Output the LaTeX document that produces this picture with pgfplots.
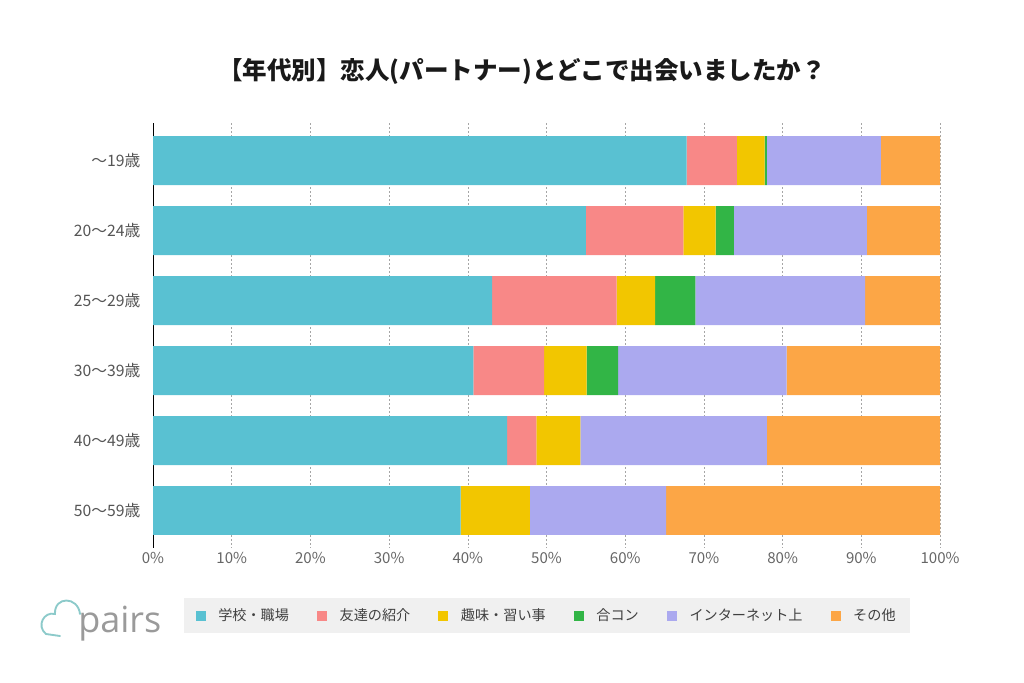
\documentclass[border=0pt]{standalone}
\usepackage{pgfplots}
\pgfplotsset{compat=1.18}
\usepackage{fontspec}
\setmainfont{Noto Sans CJK JP}
\newfontfamily\logofont{Open Sans}
\definecolor{cA}{HTML}{59C1D2}
\definecolor{cB}{HTML}{F88887}
\definecolor{cC}{HTML}{F2C600}
\definecolor{cD}{HTML}{32B546}
\definecolor{cE}{HTML}{ABA9EF}
\definecolor{cF}{HTML}{FCA646}
\definecolor{legbg}{HTML}{F0F0F0}
\definecolor{lbl}{HTML}{555555}
\definecolor{tck}{HTML}{666666}
\definecolor{logogray}{HTML}{9A9A9A}
\definecolor{logoteal}{HTML}{8CCACA}
\begin{document}
\begin{tikzpicture}
\path[use as bounding box] (0,0) rectangle (768pt,-511.5pt);
\node[font=\bfseries\fontsize{18.4}{22}\selectfont, text=black!90] at (391.5pt,-53.25pt) {【年代別】恋人(パートナー)とどこで出会いましたか？};
\begin{axis}[
  at={(114.75pt,-411pt)}, anchor=south west,
  scale only axis, width=590.25pt, height=318.75pt,
  xbar stacked, bar width=0.7,
  xmin=0, xmax=100, ymin=-0.536, ymax=5.536, y dir=reverse,
  ytick={0,1,2,3,4,5},
  yticklabels={〜19歳,20〜24歳,25〜29歳,30〜39歳,40〜49歳,50〜59歳},
  xtick={0,10,20,30,40,50,60,70,80,90,100},
  xticklabels={0\%,10\%,20\%,30\%,40\%,50\%,60\%,70\%,80\%,90\%,100\%},
  axis y line*=left, axis x line*=bottom,
  x axis line style={draw=none}, y axis line style={draw=none},
  major tick length=0pt,
  xmajorgrids, grid style={black!35, dash pattern=on 1.5pt off 1.5pt},
  xticklabel style={font=\fontsize{11.3}{13}\selectfont, text=tck},
  yticklabel style={font=\fontsize{11.8}{13}\selectfont, text=lbl, xshift=-6pt},
  legend columns=6,
  legend image code/.code={\fill[#1] (0pt,-3.75pt) rectangle (7.5pt,3.75pt);},
  legend style={at={(0.5006,-0.159)}, anchor=center, fill=legbg, draw=none,
    font=\fontsize{10.6}{12}\selectfont, text=black!75,
    inner xsep=9pt, inner ysep=6pt,
    /tikz/every odd column/.append style={column sep=7.5pt},
    /tikz/every even column/.append style={column sep=19pt}},
]
\addplot[fill=cA, draw=none] coordinates {(67.8,0) (55.0,1) (43.1,2) (40.7,3) (45.0,4) (39.1,5)};
\addplot[fill=cB, draw=none] coordinates {(6.4,0) (12.4,1) (15.8,2) (9.0,3) (3.7,4) (0,5)};
\addplot[fill=cC, draw=none] coordinates {(3.5,0) (4.1,1) (4.9,2) (5.4,3) (5.6,4) (8.8,5)};
\addplot[fill=cD, draw=none] coordinates {(0.3,0) (2.3,1) (5.1,2) (4.0,3) (0,4) (0,5)};
\addplot[fill=cE, draw=none] coordinates {(14.5,0) (16.9,1) (21.6,2) (21.4,3) (23.7,4) (17.3,5)};
\addplot[fill=cF, draw=none] coordinates {(7.5,0) (9.3,1) (9.5,2) (19.5,3) (22.0,4) (34.8,5)};
\legend{学校・職場,友達の紹介,趣味・習い事,合コン,インターネット上,その他}
\draw[black, line width=0.8pt] (axis cs:0,-0.536) -- (axis cs:0,5.536);
\end{axis}
\begin{scope}[x=0.75pt,y=-0.75pt]
\node[anchor=base west, inner sep=0pt, font=\logofont\fontsize{27}{30}\selectfont, text=logogray] at (78,632) {pairs};
\draw[logoteal, line width=1.4pt, line cap=round] (80,614) .. controls (78,596) and (54,596) .. (55,614) .. controls (44,611) and (36,626) .. (46,634) -- (60,636);
\end{scope}
\end{tikzpicture}
\end{document}
